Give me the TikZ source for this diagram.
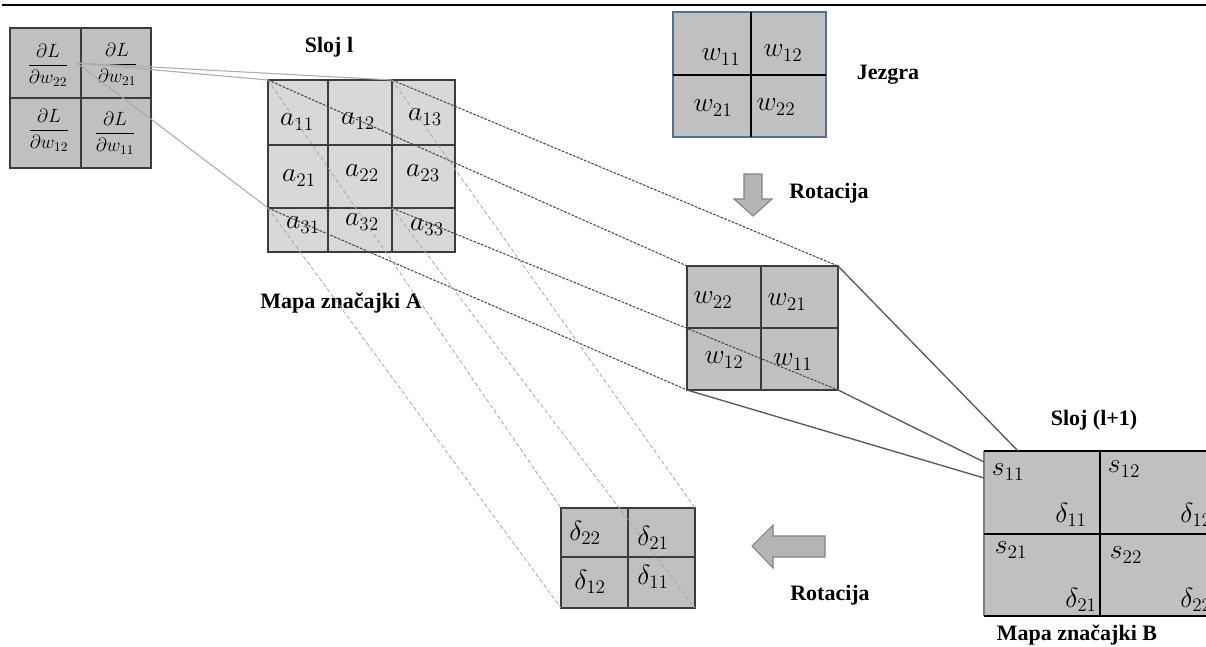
\documentclass[tikz,border=0pt]{standalone}
\usepackage{fontspec}
\setmainfont{Liberation Serif}
\begin{document}
\begin{tikzpicture}[x=0.75pt,y=-0.75pt]
\definecolor{cellGray}{RGB}{192,192,192}
\definecolor{cellLight}{RGB}{216,216,216}
\definecolor{edgeC}{RGB}{60,60,60}
\definecolor{kedge}{RGB}{84,110,150}
\definecolor{arrowfill}{RGB}{180,180,180}
\definecolor{arrowedge}{RGB}{130,130,130}
\tikzset{
  boxdark/.style={fill=cellGray, draw=edgeC, line width=1.1pt},
  boxlight/.style={fill=cellLight, draw=edgeC, line width=1.1pt},
  boxkernel/.style={fill=cellGray, draw=kedge, line width=1pt},
  divider/.style={draw=edgeC, line width=1.1pt},
  kdivider/.style={draw=black, line width=0.9pt},
  lbl/.style={font=\fontsize{16.5}{18}\selectfont\bfseries, inner sep=0pt},
  ent/.style={font=\fontsize{20}{22}\selectfont, inner sep=0pt},
  frent/.style={font=\fontsize{14.5}{16}\selectfont, inner sep=0pt},
  gradline/.style={draw=gray!65, line width=0.8pt},
  darkdash/.style={draw=black!70, line width=0.8pt, dash pattern=on 2pt off 1pt},
  lightdash/.style={draw=black!35, line width=0.6pt, dash pattern=on 3pt off 2pt},
  linkB/.style={draw=black!65, line width=1pt},
  bigarrow/.style={fill=arrowfill, draw=arrowedge, line width=0.8pt},
}
\clip (0,0) rectangle (1206,646);
\fill[white] (0,0) rectangle (1206,646);
% header line
\draw[line width=1.1pt] (2,5) -- (1206,5);

% dL/dW box
\draw[boxdark] (10,28) rectangle (151,168);
\draw[divider] (81,28) -- (81,168) (10,98) -- (151,98);
\node[frent] (g22) at (48,65) {$\displaystyle\frac{\partial L}{\partial w_{22}}$};
\node[frent] (g21) at (117,64) {$\displaystyle\frac{\partial L}{\partial w_{21}}$};
\node[frent] (g12) at (49,130) {$\displaystyle\frac{\partial L}{\partial w_{12}}$};
\node[frent] (g11) at (115,133) {$\displaystyle\frac{\partial L}{\partial w_{11}}$};

% feature map A
\node[lbl] (sloj) at (329,47) {Sloj l};
\draw[boxlight] (268,80) rectangle (455,252);
\draw[divider] (328,80) -- (328,252) (392,80) -- (392,252) (268,145) -- (455,145) (268,208) -- (455,208);
\node[ent] (a11) at (297,122) {$a_{11}$};
\node[ent] (a12) at (358,121) {$a_{12}$};
\node[ent] (a13) at (425,117) {$a_{13}$};
\node[ent] (a21) at (299,178) {$a_{21}$};
\node[ent] (a22) at (362,173) {$a_{22}$};
\node[ent] (a23) at (423,173) {$a_{23}$};
\node[ent] (a31) at (303,225) {$a_{31}$};
\node[ent] (a32) at (362,222) {$a_{32}$};
\node[ent] (a33) at (427,227) {$a_{33}$};
\node[lbl] (mapaA) at (341,303) {Mapa značajki A};

% kernel
\draw[boxkernel] (673,12) rectangle (826,137);
\draw[kdivider] (751,12) -- (751,137) (673,75) -- (826,75);
\node[ent] (w11) at (721,57) {$w_{11}$};
\node[ent] (w12) at (783,53) {$w_{12}$};
\node[ent] (w21) at (713,108) {$w_{21}$};
\node[ent] (w22) at (776,107) {$w_{22}$};
\node[lbl] (jezgra) at (888,75) {Jezgra};

% rotation arrow down
\draw[bigarrow] (744,174) -- (762,174) -- (762,199) -- (772,199) -- (753,216) -- (734,199) -- (744,199) -- cycle;
\node[lbl] (rot1) at (829,193) {Rotacija};

% rotated kernel
\draw[boxdark] (687,266) rectangle (838,390);
\draw[divider] (761,266) -- (761,390) (687,328) -- (838,328);
\node[ent] (r22) at (713,300) {$w_{22}$};
\node[ent] (r21) at (787,302) {$w_{21}$};
\node[ent] (r12) at (724,360) {$w_{12}$};
\node[ent] (r11) at (793,362) {$w_{11}$};

% feature map B
\node[lbl] (slojB) at (1094,420) {Sloj (l+1)};
\fill[cellGray] (984,451) rectangle (1215,616);
\draw[draw=gray, line width=0.8pt] (984,451) -- (984,616);
\draw[line width=2pt] (984,451) -- (1215,451) (984,616) -- (1215,616);
\draw[line width=1.4pt] (1100,451) -- (1100,616) (984,534) -- (1215,534);
\node[ent] (s11) at (1008,472) {$s_{11}$};
\node[ent] (d11B) at (1071,515) {$\delta_{11}$};
\node[ent] (s12) at (1124,469) {$s_{12}$};
\node[ent] (d12B) at (1196,515) {$\delta_{12}$};
\node[ent] (s21) at (1011,550) {$s_{21}$};
\node[ent] (d21B) at (1081,600) {$\delta_{21}$};
\node[ent] (s22) at (1126,555) {$s_{22}$};
\node[ent] (d22B) at (1196,600) {$\delta_{22}$};
\node[lbl] (mapaB) at (1077,635) {Mapa značajki B};

% rotated delta
\draw[boxdark] (561,508) rectangle (695,608);
\draw[divider] (628,508) -- (628,608) (561,557) -- (695,557);
\node[ent] (e22) at (585,533) {$\delta_{22}$};
\node[ent] (e21) at (653,538) {$\delta_{21}$};
\node[ent] (e12) at (590,582) {$\delta_{12}$};
\node[ent] (e11) at (653,577) {$\delta_{11}$};

% rotation arrow left
\draw[bigarrow] (825,536) -- (773,536) -- (773,525) -- (752,546) -- (773,568) -- (773,557) -- (825,557) -- cycle;
\node[lbl] (rot2) at (830,595) {Rotacija};

% named points for the connectors
\coordinate (dLp) at (77,63);
\coordinate (Anw) at (268,80);
\coordinate (Antop) at (392,80);
\coordinate (Awmid) at (268,208);
\coordinate (Actr) at (392,208);
\coordinate (Rnw) at (687,266);
\coordinate (Rne) at (838,266);
\coordinate (Rsw) at (687,390);
\coordinate (Rse) at (838,390);
\coordinate (Dnw) at (561,508);
\coordinate (Dne) at (695,508);
\coordinate (Dsw) at (561,608);
\coordinate (Dse) at (695,608);
\coordinate (Btop) at (1018,451);
\coordinate (Bl1) at (984,462);
\coordinate (Bl2) at (984,478);

% gradient window lines
\draw[gradline] (dLp) -- (Anw);
\draw[gradline] (dLp) -- (Antop);
\draw[gradline] (dLp) -- (Awmid);

% A -> rotated kernel
\draw[darkdash] (Anw) -- (Rnw);
\draw[darkdash] (Antop) -- (Rne);
\draw[darkdash] (Awmid) -- (Rsw);
\draw[darkdash] (Actr) -- (Rse);

% A -> rotated delta
\draw[lightdash] (Anw) -- (Dnw);
\draw[lightdash] (Antop) -- (Dne);
\draw[lightdash] (Awmid) -- (Dsw);
\draw[lightdash] (Actr) -- (Dse);

% rotated kernel -> B
\draw[linkB] (Rne) -- (Btop);
\draw[linkB] (Rse) -- (Bl1);
\draw[linkB] (Rsw) -- (Bl2);
\end{tikzpicture}
\end{document}
